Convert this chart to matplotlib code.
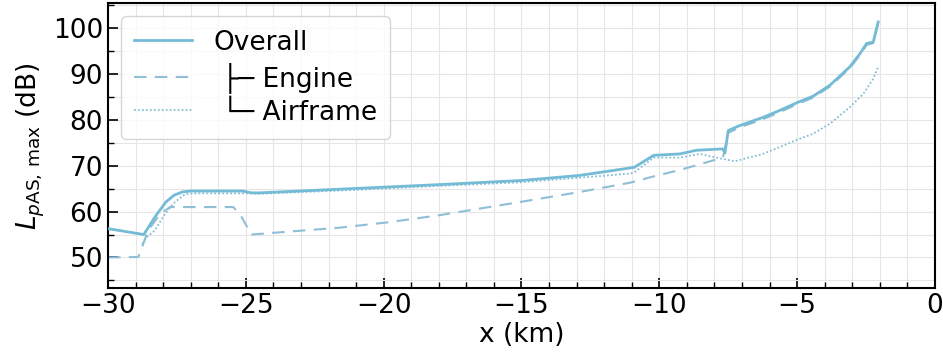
import matplotlib
matplotlib.use("Agg")
import matplotlib.pyplot as plt
from matplotlib.ticker import MultipleLocator

# distance to runway threshold (km) and max A-weighted level (dB)
overall_x = [-30.0, -28.7, -28.3, -27.9, -27.6, -27.3, -27.0, -25.1, -24.8, -24.5, -21.6, -18.0,
             -15.0, -12.9, -11.1, -10.9, -10.2, -9.25, -8.65, -7.7, -7.62, -7.5, -7.08,
             -6.23, -5.63, -5.0, -4.42, -3.81, -3.09, -2.72, -2.48, -2.24, -2.06]
overall_y = [56.3, 55.0, 58.8, 62.1, 63.6, 64.3, 64.5, 64.5, 64.1, 64.1, 64.9, 65.9,
             66.8, 67.9, 69.5, 69.7, 72.3, 72.6, 73.4, 73.7, 72.8, 77.7, 78.8,
             80.6, 82.1, 83.8, 85.2, 87.6, 91.6, 94.5, 96.7, 97.0, 101.4]

engine_x = [-30.0, -28.9, -28.54, -28.11, -27.75, -25.45, -25.15, -24.8, -21.6, -19.8,
            -18.0, -15.06, -12.88, -11.07, -10.2, -9.25, -7.69, -7.5, -7.08, -6.23,
            -5.63, -5.02, -4.42, -3.81, -3.09, -2.72, -2.48, -2.24, -2.06]
engine_y = [50.0, 50.1, 55.9, 59.5, 61.0, 61.0, 58.8, 55.0, 56.5, 57.7,
            59.2, 62.1, 64.3, 66.3, 67.7, 69.1, 71.8, 77.2, 78.4, 80.2,
            81.7, 83.4, 84.9, 87.3, 91.3, 94.2, 96.4, 96.8, 101.2]

airframe_x = [-28.75, -28.6, -28.3, -27.93, -27.57, -27.2, -26.9, -25.0, -24.5, -21.6,
              -18.0, -15.06, -12.9, -11.07, -10.9, -10.2, -9.25, -8.53, -7.69, -7.26,
              -6.24, -5.63, -5.0, -4.42, -3.81, -3.09, -2.6, -2.24, -2.06]
airframe_y = [53.0, 54.4, 55.9, 59.5, 62.1, 63.8, 64.0, 64.0, 63.9, 64.6,
              65.6, 66.4, 67.4, 68.3, 68.6, 71.8, 71.8, 72.6, 71.5, 71.0,
              72.6, 74.1, 75.7, 77.0, 79.2, 82.8, 85.7, 89.0, 91.6]

fs = 19
fig = plt.figure(figsize=(9.43, 3.54), dpi=100)
ax = fig.add_axes([0.1145, 0.186, 0.877, 0.805])

ax.plot(overall_x, overall_y, color="#74bbd6", lw=2.0, label="Overall", zorder=3)
ax.plot(engine_x, engine_y, color="#8fbfd6", lw=1.5, ls=(0, (6, 4)),
        label=" \u251c\u2500 Engine", zorder=2)
ax.plot(airframe_x, airframe_y, color="#86bfd4", lw=1.3, ls=(0, (1, 1.2)),
        label=" \u2514\u2500 Airframe", zorder=2)

ax.set_xlim(-30, 0)
ax.set_ylim(43.3, 105.5)
ax.xaxis.set_major_locator(MultipleLocator(5))
ax.xaxis.set_minor_locator(MultipleLocator(1))
ax.yaxis.set_major_locator(MultipleLocator(10))
ax.yaxis.set_minor_locator(MultipleLocator(5))
ax.grid(which="both", color="#e6e6e6", lw=0.8)
ax.set_axisbelow(True)
ax.tick_params(which="both", direction="in", labelsize=fs)
ax.tick_params(which="major", length=7, width=1.2)
ax.tick_params(which="minor", length=4, width=1.0)
for s in ax.spines.values():
    s.set_linewidth(1.5)

ax.set_xlabel("x (km)", fontsize=fs, labelpad=2)
ax.set_ylabel(r"$L_{p\mathrm{AS,\,max}}$ (dB)", fontsize=fs)

leg = ax.legend(loc="upper left", fontsize=fs, handlelength=2.2, borderpad=0.5,
                labelspacing=0.25, fancybox=True)
leg.get_frame().set_edgecolor("#cccccc")

fig.savefig("out.png", dpi=100)
